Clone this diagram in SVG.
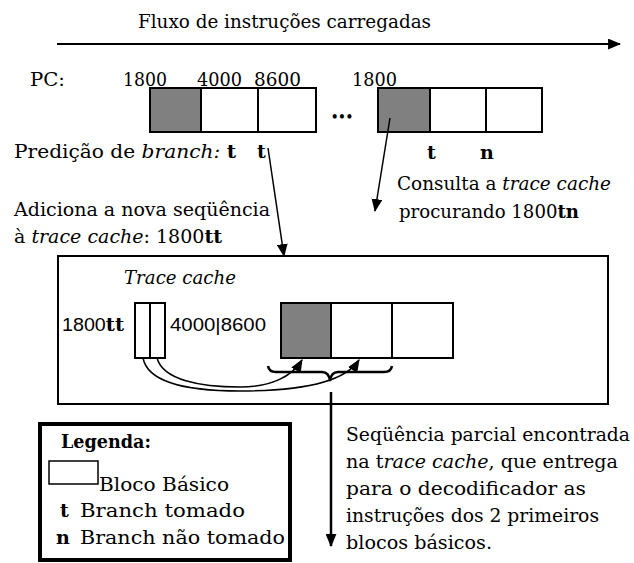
<svg xmlns="http://www.w3.org/2000/svg" width="634" height="563" viewBox="0 0 634 563">
<style>
text{font-family:"DejaVu Serif","Liberation Serif",serif;font-size:19px;fill:#000}
.s{font-family:"Liberation Sans",Arial,sans-serif}
.b{font-weight:bold}
.i{font-style:italic}
.box{fill:#fff;stroke:#000;stroke-width:2}
.g{fill:#808080;stroke:#000;stroke-width:2}
.ln{fill:none;stroke:#000;stroke-width:1.5}
</style>
<defs>
<marker id="ah" viewBox="0 0 12 10" refX="11" refY="5" markerWidth="13" markerHeight="11" markerUnits="userSpaceOnUse" orient="auto"><path d="M0,0 L12,5 L0,10 z" fill="#000"/></marker>
</defs>
<g id="title">
<text x="138" y="28" textLength="293" lengthAdjust="spacingAndGlyphs">Fluxo de instruções carregadas</text>
</g>
<g id="fetch-stream">
<text x="30" y="86" textLength="35" lengthAdjust="spacingAndGlyphs">PC:</text>
<text x="123" y="86" textLength="44" lengthAdjust="spacingAndGlyphs">1800</text>
<text x="197" y="86" textLength="45" lengthAdjust="spacingAndGlyphs">4000</text>
<text x="254" y="86" textLength="47" lengthAdjust="spacingAndGlyphs">8600</text>
<text x="352" y="86" textLength="45" lengthAdjust="spacingAndGlyphs">1800</text>
<rect class="g" x="150" y="88" width="51" height="44"/>
<rect class="box" x="201" y="88" width="57" height="44"/>
<rect class="box" x="258" y="88" width="58" height="44"/>
<text x="331" y="121" class="b" style="font-size:12px" textLength="22" lengthAdjust="spacingAndGlyphs">•••</text>
<rect class="g" x="378" y="88" width="52" height="44"/>
<rect class="box" x="430" y="88" width="56" height="44"/>
<rect class="box" x="486" y="88" width="56" height="44"/>
<text x="427" y="159" class="b">t</text>
<text x="480" y="159" class="b">n</text>
</g>
<g id="prediction">
<text x="14" y="158" textLength="222" lengthAdjust="spacingAndGlyphs">Predição de <tspan class="i">branch:</tspan> <tspan class="b">t</tspan></text>
<text x="257" y="158" class="b">t</text>
</g>
<g id="add-text">
<text x="14" y="216" textLength="256" lengthAdjust="spacingAndGlyphs">Adiciona a nova seqüência</text>
<text x="14" y="243" textLength="208" lengthAdjust="spacingAndGlyphs">à <tspan class="i">trace cache</tspan>: 1800<tspan class="b">tt</tspan></text>
</g>
<g id="lookup-text">
<text x="397" y="190" style="font-size:18px" textLength="214" lengthAdjust="spacingAndGlyphs">Consulta a <tspan class="i">trace cache</tspan></text>
<text x="399" y="218" style="font-size:18px" textLength="180" lengthAdjust="spacingAndGlyphs">procurando 1800<tspan class="b">tn</tspan></text>
</g>
<g id="trace-cache">
<rect x="58" y="256" width="550" height="148" fill="#fff" stroke="#000" stroke-width="2"/>
<text x="124" y="284" class="i" textLength="112" lengthAdjust="spacingAndGlyphs">Trace cache</text>
<text x="62" y="331" class="s" style="font-size:19px" textLength="62" lengthAdjust="spacingAndGlyphs">1800<tspan class="b" style="font-family:'DejaVu Serif',serif">tt</tspan></text>
<rect class="box" x="135" y="303" width="15" height="55"/>
<rect class="box" x="150" y="303" width="15" height="55"/>
<text x="170" y="331" class="s" style="font-size:19px" textLength="96" lengthAdjust="spacingAndGlyphs">4000|8600</text>
<rect class="g" x="281" y="303" width="50" height="55"/>
<rect class="box" x="331" y="303" width="61" height="55"/>
<rect class="box" x="392" y="303" width="61" height="55"/>
</g>
<g id="legend">
<rect x="40" y="424" width="250" height="136" fill="#fff" stroke="#000" stroke-width="4"/>
<text x="61" y="448" class="b" textLength="90" lengthAdjust="spacingAndGlyphs">Legenda:</text>
<rect x="49" y="461" width="49" height="23" fill="#fff" stroke="#000" stroke-width="1.5"/>
<text x="99" y="491" textLength="130" lengthAdjust="spacingAndGlyphs">Bloco Básico</text>
<text x="60" y="517" class="b">t</text>
<text x="80" y="517" textLength="165" lengthAdjust="spacingAndGlyphs">Branch tomado</text>
<text x="56" y="544" class="b">n</text>
<text x="80" y="544" textLength="205" lengthAdjust="spacingAndGlyphs">Branch não tomado</text>
</g>
<g id="result-text">
<text x="346" y="441" textLength="284" lengthAdjust="spacingAndGlyphs">Seqüência parcial encontrada</text>
<text x="346" y="468" textLength="272" lengthAdjust="spacingAndGlyphs">na t<tspan class="i">race cache</tspan>, que entrega</text>
<text x="346" y="495" textLength="240" lengthAdjust="spacingAndGlyphs">para o decodificador as</text>
<text x="346" y="522" textLength="253" lengthAdjust="spacingAndGlyphs">instruções dos 2 primeiros</text>
<text x="346" y="549" textLength="146" lengthAdjust="spacingAndGlyphs">blocos básicos.</text>
</g>
<g id="connectors">
<line class="ln" x1="57" y1="44" x2="620" y2="44" marker-end="url(#ah)" style="stroke-width:2"/>
<line class="ln" x1="390" y1="118" x2="375" y2="211" marker-end="url(#ah)"/>
<line class="ln" x1="268" y1="148" x2="284" y2="256" marker-end="url(#ah)"/>
<path class="ln" d="M143,358 C148,384 190,391 240,391 C300,391 345,382 359,360" marker-end="url(#ah)"/>
<path class="ln" d="M157,358 C163,380 200,387 240,387 C270,387 292,377 302,360" marker-end="url(#ah)"/>
<path fill="none" stroke="#000" stroke-width="2.5" d="M268,366 Q269,372 276,372 L322,372 Q329,372 330,381 Q331,372 338,372 L384,372 Q391,372 392,366"/>
<line class="ln" x1="331" y1="392" x2="331" y2="546" marker-end="url(#ah)" style="stroke-width:2.5"/>
</g>
</svg>
